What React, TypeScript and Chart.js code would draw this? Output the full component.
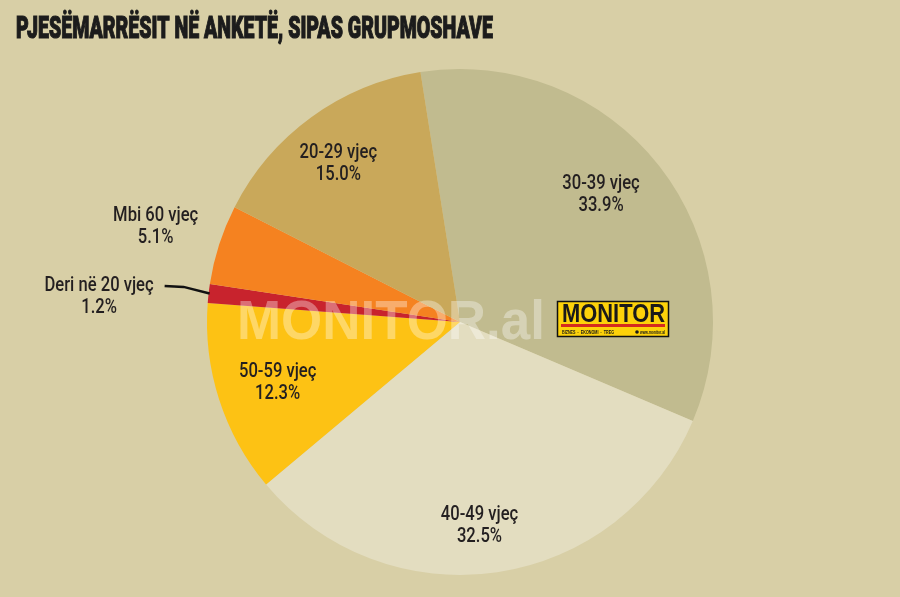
import { useEffect, useRef } from "react";
import { Chart, registerables } from "chart.js";
Chart.register(...registerables);

const titleText = "PJESËMARRËSIT NË ANKETË, SIPAS GRUPMOSHAVE";
const categories = ["30-39 vjeç", "40-49 vjeç", "50-59 vjeç", "Deri në 20 vjeç", "Mbi 60 vjeç", "20-29 vjeç"];
const shares = [33.9, 32.5, 12.3, 1.2, 5.1, 15.0];
const sliceColors = ["#c1bb8f", "#e3ddc0", "#fdc214", "#c8232d", "#f58220", "#c9a85a"];
// label placement: radius factor, angle offset (deg)
const labelRadius = [0.75, 0.81, 0.76, 1.43, 1.26, 0.79];
const labelAngleOffset = [-4, 3, -0.7, -2.5, -0.5, -1.5];

const BG = "#d8cfa6";
const TEXT = "#231f20";
const LABEL_FONT = "500 21px Roboto, 'DejaVu Sans', sans-serif";
const CONDENSE = 0.79;

function fitText(ctx: CanvasRenderingContext2D, text: string, x: number, y: number, w: number, align: "left" | "center") {
  const m = ctx.measureText(text).width;
  const s = w / m;
  ctx.save();
  ctx.translate(x, y);
  ctx.scale(s, 1);
  ctx.textAlign = align;
  ctx.fillText(text, 0, 0);
  ctx.restore();
}

function narrowText(ctx: CanvasRenderingContext2D, text: string, x: number, y: number) {
  ctx.save();
  ctx.translate(x, y);
  ctx.scale(CONDENSE, 1);
  ctx.textAlign = "center";
  ctx.fillText(text, 0, 0);
  ctx.restore();
  return ctx.measureText(text).width * CONDENSE;
}

const decor = {
  id: "decor",
  beforeDraw(chart: any) {
    const ctx = chart.ctx;
    ctx.save();
    ctx.fillStyle = BG;
    ctx.fillRect(0, 0, chart.width, chart.height);
    ctx.restore();
  },
  afterDatasetsDraw(chart: any) {
    const ctx: CanvasRenderingContext2D = chart.ctx;
    const meta = chart.getDatasetMeta(0);
    ctx.save();
    // title
    ctx.fillStyle = "#1c1c1c";
    ctx.strokeStyle = "#1c1c1c";
    ctx.textBaseline = "alphabetic";
    ctx.font = `900 31px Roboto, 'DejaVu Sans', sans-serif`;
    {
      const m = ctx.measureText(titleText).width;
      const s = 477 / m;
      ctx.save();
      ctx.translate(16, 37.5);
      ctx.scale(s, 1);
      ctx.lineWidth = 1.2;
      ctx.textAlign = "left";
      ctx.fillText(titleText, 0, 0);
      ctx.strokeText(titleText, 0, 0);
      ctx.restore();
    }
    // watermark
    ctx.fillStyle = "rgba(255,255,255,0.35)";
    ctx.font = `bold 56px 'Liberation Sans', Arial, sans-serif`;
    fitText(ctx, "MONITOR.al", 237, 339, 308, "left");

    // labels
    ctx.textBaseline = "middle";
    ctx.fillStyle = TEXT;
    ctx.font = LABEL_FONT;
    meta.data.forEach((arc: any, i: number) => {
      const p = arc.getProps(["x", "y", "startAngle", "endAngle", "outerRadius"], true);
      const mid = (p.startAngle + p.endAngle) / 2 + (labelAngleOffset[i] * Math.PI) / 180;
      const r = p.outerRadius * labelRadius[i];
      const lx = p.x + Math.cos(mid) * r;
      const ly = p.y + Math.sin(mid) * r;
      const tw = narrowText(ctx, categories[i], lx, ly - 11);
      narrowText(ctx, shares[i].toFixed(1) + "%", lx, ly + 11);
      if (labelRadius[i] > 1.35) {
        const realMid = (p.startAngle + p.endAngle) / 2;
        const ex = p.x + Math.cos(realMid) * (p.outerRadius - 1);
        const ey = p.y + Math.sin(realMid) * (p.outerRadius - 1);
        ctx.beginPath();
        ctx.strokeStyle = "#111";
        ctx.lineWidth = 2.5;
        ctx.moveTo(ex, ey);
        ctx.lineTo(ex - 26, ly - 10);
        ctx.lineTo(lx + tw / 2 + 11, ly - 11);
        ctx.stroke();
      }
    });

    // logo
    const bx = 557, by = 301, bw = 112, bh = 36;
    ctx.fillStyle = "#fdd20a";
    ctx.fillRect(bx, by, bw, bh);
    ctx.strokeStyle = "#111";
    ctx.lineWidth = 1.5;
    ctx.strokeRect(bx + 0.5, by + 0.5, bw - 1, bh - 1);
    ctx.fillStyle = "#1a1a1a";
    ctx.textBaseline = "alphabetic";
    ctx.font = `bold 25px 'Liberation Sans', Arial, sans-serif`;
    fitText(ctx, "MONITOR", 562, 322, 103, "left");
    ctx.fillStyle = "#d52b1e";
    ctx.fillRect(561, 324, 104, 3);
    ctx.fillStyle = "#1a1a1a";
    ctx.font = `bold 5px 'Liberation Sans', Arial, sans-serif`;
    fitText(ctx, "BIZNES  ·  EKONOMI  ·  TREG", 562, 334, 52, "left");
    ctx.beginPath();
    ctx.arc(637, 332, 1.8, 0, Math.PI * 2);
    ctx.fill();
    fitText(ctx, "www.monitor.al", 640, 334, 25, "left");
    ctx.restore();
  },
};

export default function App() {
  const ref = useRef<HTMLCanvasElement | null>(null);
  useEffect(() => {
    if (!ref.current) return;
    const chart = new Chart(ref.current, {
      type: "pie",
      data: {
        labels: categories,
        datasets: [
          {
            data: shares,
            backgroundColor: sliceColors,
            borderWidth: 0,
          },
        ],
      },
      options: {
        animation: false,
        responsive: false,
        rotation: -9,
        layout: { padding: { left: 207, right: 187, top: 69, bottom: 22 } },
        plugins: {
          legend: { display: false },
          tooltip: { enabled: false },
          title: { display: false },
        },
      },
      plugins: [decor],
    });
    return () => chart.destroy();
  }, []);
  return (
    <div style={{ position: "absolute", left: 0, top: 0, width: 900, height: 597 }}>
      <canvas ref={ref} width={900} height={597} style={{ display: "block" }} />
    </div>
  );
}
